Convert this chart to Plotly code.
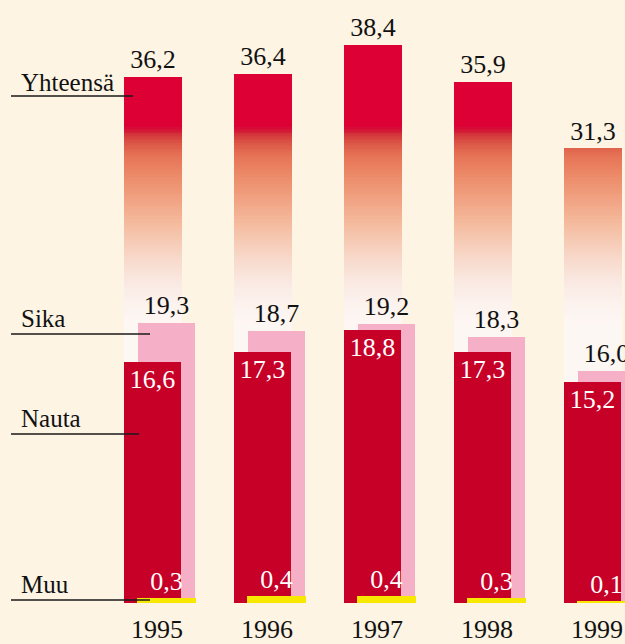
import plotly.graph_objects as go

# ---- data ----
years = ["1995", "1996", "1997", "1998", "1999"]
yhteensa = [36.2, 36.4, 38.4, 35.9, 31.3]
sika = [19.3, 18.7, 19.2, 18.3, 16.0]
nauta = [16.6, 17.3, 18.8, 17.3, 15.2]
muu = [0.3, 0.4, 0.4, 0.3, 0.1]

series_labels = ["Yhteensä", "Sika", "Nauta", "Muu"]

# ---- style ----
BG = "#fdf4e4"
RED_TOP = "#dc0034"
NAUTA_RED = "#c70028"
PINK = "#f5afc6"
YELLOW = "#f8e800"
FONT = "Liberation Serif"
FS = 26
FS_LABEL = 25

W, H = 625, 644
PLOT_BOTTOM = 603           # pixel row of value 0
PX_PER_UNIT = 14.52
CAT_PX = 110.0              # pixels per category
FIRST_CAT_PX = 157.0        # pixel of first category centre

def fmt(v):
    return f"{v:.1f}".replace(".", ",")

# vertical gradient of the total bars (value -> colour), absolute in value space
grad_stops = [
    (0.0, "#fdf7f3"), (19.0, "#fdf7f3"), (20.5, "#fcf3ef"), (22.0, "#faeae4"),
    (23.5, "#f8dccf"), (25.0, "#f6cab4"), (26.5, "#f4b698"), (28.0, "#f0a080"),
    (29.5, "#ec8a68"), (30.8, "#e67456"), (31.6, "#dc5a48"), (32.2, "#d43c3c"),
    (32.6, "#d41438"), (32.9, RED_TOP), (60.0, RED_TOP),
]

def hex2rgb(h):
    h = h.lstrip("#")
    return tuple(int(h[i:i + 2], 16) for i in (0, 2, 4))

def grad_color(v):
    for (v0, c0), (v1, c1) in zip(grad_stops[:-1], grad_stops[1:]):
        if v0 <= v <= v1:
            t = 0 if v1 == v0 else (v - v0) / (v1 - v0)
            a, b = hex2rgb(c0), hex2rgb(c1)
            return "rgb(%d,%d,%d)" % tuple(round(a[i] + (b[i] - a[i]) * t) for i in range(3))
    return RED_TOP

# geometry of bars in category units
tot_off, tot_w = -33 / CAT_PX, 58 / CAT_PX
sika_off, sika_w = -19 / CAT_PX, 57 / CAT_PX

fig = go.Figure()

# total bars drawn as thin stacked slices to get the vertical gradient
step = 0.1
seg_x, seg_base, seg_h, seg_c = [], [], [], []
for yr, tot in zip(years, yhteensa):
    lo = 0.0
    while lo < tot - 1e-9:
        h = min(step, tot - lo)
        seg_x.append(yr)
        seg_base.append(lo)
        seg_h.append(h)
        seg_c.append(grad_color(lo + h / 2))
        lo += step
fig.add_trace(go.Bar(
    x=seg_x, y=seg_h, base=seg_base, offset=tot_off, width=tot_w,
    marker=dict(color=seg_c, line=dict(width=0)), hoverinfo="skip",
    showlegend=False,
))

# labels of totals
fig.add_trace(go.Bar(
    x=years, y=yhteensa, offset=tot_off, width=tot_w,
    marker=dict(color="rgba(0,0,0,0)", line=dict(width=0)),
    text=[fmt(v) for v in yhteensa], textposition="outside", textangle=0,
    constraintext="none", cliponaxis=False,
    textfont=dict(family=FONT, size=FS, color="#111"),
    name=series_labels[0], hoverinfo="skip", showlegend=False,
))

# Sika
fig.add_trace(go.Bar(
    x=years, y=sika, offset=sika_off, width=sika_w,
    marker=dict(color=PINK, line=dict(width=0)),
    text=[fmt(v) for v in sika], textposition="outside", textangle=0,
    constraintext="none", cliponaxis=False,
    textfont=dict(family=FONT, size=FS, color="#111"),
    name=series_labels[1], hoverinfo="skip", showlegend=False,
))

# Nauta
fig.add_trace(go.Bar(
    x=years, y=nauta, offset=tot_off, width=57 / CAT_PX,
    marker=dict(color=NAUTA_RED, line=dict(width=0)),
    text=[fmt(v) for v in nauta], textposition="inside", insidetextanchor="end",
    textangle=0, constraintext="none",
    textfont=dict(family=FONT, size=FS, color="white"),
    name=series_labels[2], hoverinfo="skip", showlegend=False,
))

# Muu
fig.add_trace(go.Bar(
    x=years, y=muu, offset=sika_off, width=sika_w,
    marker=dict(color=YELLOW, line=dict(width=2, color=YELLOW)),
    text=[fmt(v) for v in muu], textposition="outside", textangle=0,
    constraintext="none", cliponaxis=False,
    textfont=dict(family=FONT, size=FS, color="white"),
    name=series_labels[3], hoverinfo="skip", showlegend=False,
))

# left-hand labels with leader lines
def py2paper(py):
    return (PLOT_BOTTOM - py) / PLOT_BOTTOM

label_pos = [  # (text y px, line y px, line end px)
    (82, 96, 133),
    (318, 334, 150),
    (418, 434, 139),
    (584, 600, 150),
]
for name, (ty, ly, lx1) in zip(series_labels, label_pos):
    fig.add_annotation(
        x=19 / W, y=py2paper(ty), xref="paper", yref="paper",
        xanchor="left", yanchor="middle", showarrow=False, text=name,
        font=dict(family=FONT, size=FS_LABEL, color="#111"),
    )
    fig.add_shape(
        type="line", xref="paper", yref="paper",
        x0=11 / W, x1=lx1 / W, y0=py2paper(ly), y1=py2paper(ly),
        line=dict(color="#1a1a1a", width=1.5), layer="above",
    )

x_lo = -FIRST_CAT_PX / CAT_PX
x_hi = (W - FIRST_CAT_PX) / CAT_PX
fig.update_layout(
    width=W, height=H,
    margin=dict(l=0, r=0, t=0, b=H - PLOT_BOTTOM, pad=0, autoexpand=False),
    paper_bgcolor=BG, plot_bgcolor=BG,
    barmode="overlay", bargap=0,
    xaxis=dict(
        type="category", range=[x_lo, x_hi], showgrid=False, zeroline=False,
        showline=False, ticks="outside", ticklen=3, tickcolor=BG,
        automargin=False,
        tickfont=dict(family=FONT, size=FS, color="#111"), fixedrange=True,
    ),
    yaxis=dict(
        range=[0, PLOT_BOTTOM / PX_PER_UNIT], visible=False, fixedrange=True,
        automargin=False,
    ),
    font=dict(family=FONT),
)

fig.write_html("out.html", config={"displayModeBar": False})

# remove the browser's default page margin so the figure fills the window
with open("out.html", encoding="utf-8") as f:
    html = f.read()
html = html.replace("<body>", '<body style="margin:0;padding:0;overflow:hidden;background:%s">' % BG, 1)
with open("out.html", "w", encoding="utf-8") as f:
    f.write(html)
